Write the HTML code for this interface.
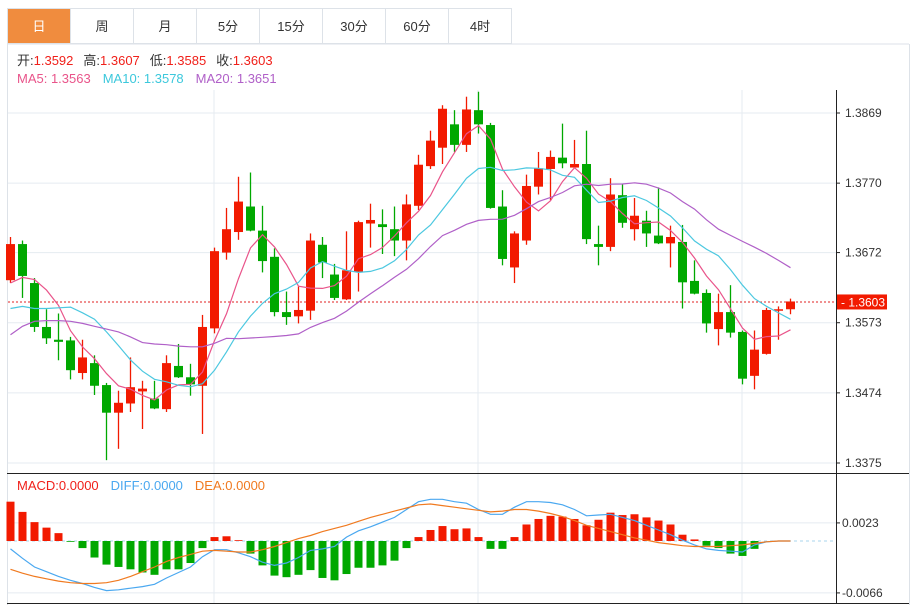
<!DOCTYPE html>
<html><head><meta charset="utf-8"><style>
body{margin:0;background:#fff;width:916px;height:605px;overflow:hidden;font-family:"Liberation Sans","Noto Sans CJK SC",sans-serif;}
svg{display:block}
</style></head><body>
<svg id="chart" width="916" height="605" viewBox="0 0 916 605" xmlns="http://www.w3.org/2000/svg" font-family="Liberation Sans, Noto Sans CJK SC, sans-serif">
  <g id="frame">
    <line x1="7" y1="44" x2="909" y2="44" stroke="#dde2e8"/>
    <line x1="7.5" y1="8" x2="7.5" y2="605" stroke="#dde2e8"/>
    <line x1="909.5" y1="44" x2="909.5" y2="605" stroke="#dde2e8"/>
  </g>
  <g id="tabs"></g>
  <g id="grid"></g>
  <g id="legend" font-size="13">
    <text x="17" y="65"><tspan fill="#333">开:</tspan><tspan fill="#f0201a">1.3592</tspan><tspan fill="#333" dx="10">高:</tspan><tspan fill="#f0201a">1.3607</tspan><tspan fill="#333" dx="10">低:</tspan><tspan fill="#f0201a">1.3585</tspan><tspan fill="#333" dx="10">收:</tspan><tspan fill="#f0201a">1.3603</tspan></text>
    <text x="17" y="83"><tspan fill="#e9548a">MA5: 1.3563</tspan><tspan fill="#3cc8dc" dx="12">MA10: 1.3578</tspan><tspan fill="#b060c8" dx="12">MA20: 1.3651</tspan></text>
  </g>
  <g id="candles"></g>
  <g id="malines"></g>
  <g id="macd"></g>
  <g id="macdlegend" font-size="13">
    <text x="17" y="490"><tspan fill="#f0201a">MACD:0.0000</tspan><tspan fill="#4aa8f0" dx="12">DIFF:0.0000</tspan><tspan fill="#f07a20" dx="12">DEA:0.0000</tspan></text>
  </g>
  <g id="axis"></g>
</svg>
<script>
const tabLabels=["日","周","月","5分","15分","30分","60分","4时"];
const openP=[1.3633,1.3684,1.3629,1.3567,1.3549,1.3548,1.3502,1.3516,1.3485,1.3446,1.3459,1.3476,1.3466,1.3451,1.3512,1.3496,1.3484,1.3565,1.3672,1.3701,1.3737,1.3703,1.3666,1.3588,1.3582,1.3590,1.3683,1.3641,1.3606,1.3645,1.3713,1.3712,1.3705,1.3689,1.3738,1.3794,1.3820,1.3853,1.3824,1.3873,1.3852,1.3737,1.3651,1.3689,1.3765,1.3790,1.3806,1.3792,1.3797,1.3684,1.3680,1.3753,1.3705,1.3717,1.3696,1.3685,1.3687,1.3632,1.3615,1.3564,1.3588,1.3560,1.3498,1.3529,1.3590,1.3592];
const highP=[1.3694,1.3689,1.3636,1.3592,1.3586,1.3553,1.3549,1.3527,1.3488,1.3477,1.3524,1.3491,1.3491,1.3527,1.3543,1.3515,1.3584,1.3679,1.3735,1.3779,1.3785,1.3738,1.3678,1.3617,1.3624,1.3699,1.3694,1.3656,1.3702,1.3717,1.3741,1.3733,1.3737,1.3754,1.3810,1.3844,1.3880,1.3873,1.3892,1.3899,1.3855,1.3760,1.3702,1.3782,1.3814,1.3816,1.3854,1.3831,1.3844,1.3710,1.3777,1.3769,1.3749,1.3731,1.3764,1.3710,1.3711,1.3661,1.3620,1.3614,1.3626,1.3562,1.3562,1.3594,1.3596,1.3607];
const lowP=[1.3629,1.3608,1.3560,1.3543,1.3520,1.3493,1.3493,1.3471,1.3379,1.3395,1.3447,1.3423,1.3451,1.3447,1.3495,1.3470,1.3416,1.3558,1.3662,1.3690,1.3702,1.3644,1.3582,1.3570,1.3572,1.3577,1.3636,1.3605,1.3605,1.3617,1.3679,1.3670,1.3667,1.3661,1.3732,1.3790,1.3797,1.3814,1.3814,1.3840,1.3734,1.3654,1.3629,1.3683,1.3754,1.3746,1.3791,1.3791,1.3684,1.3654,1.3674,1.3707,1.3689,1.3680,1.3684,1.3651,1.3593,1.3613,1.3559,1.3541,1.3552,1.3486,1.3479,1.3528,1.3549,1.3585];
const closeP=[1.3684,1.3639,1.3567,1.3551,1.3546,1.3506,1.3524,1.3484,1.3446,1.3460,1.3482,1.3480,1.3452,1.3516,1.3496,1.3486,1.3567,1.3674,1.3705,1.3744,1.3703,1.3660,1.3588,1.3581,1.3591,1.3689,1.3658,1.3608,1.3647,1.3715,1.3718,1.3708,1.3689,1.3740,1.3796,1.3830,1.3875,1.3824,1.3874,1.3853,1.3735,1.3663,1.3699,1.3766,1.3791,1.3807,1.3798,1.3797,1.3691,1.3680,1.3754,1.3714,1.3724,1.3699,1.3685,1.3694,1.3630,1.3614,1.3572,1.3588,1.3559,1.3494,1.3535,1.3591,1.3592,1.3603];
const ma5Lead=[1.3629,1.3637,1.3634,1.3619];
const ma10Lead=[1.3593,1.3596,1.3593,1.3593,1.3594,1.3595,1.3587,1.3578,1.3560];
const ma20Lead=[1.3556,1.3568,1.3575,1.3576,1.3576,1.3575,1.3572,1.3568,1.3564,1.3560,1.3553,1.3545,1.3543,1.3542,1.3540,1.3539,1.3539,1.3544,1.3551];
const macdHist=[0.0050,0.0037,0.0024,0.0017,0.0010,-0.0001,-0.0009,-0.0021,-0.0030,-0.0033,-0.0036,-0.0040,-0.0043,-0.0036,-0.0036,-0.0028,-0.0009,0.0005,0.0006,0.0001,-0.0016,-0.0031,-0.0044,-0.0046,-0.0043,-0.0037,-0.0047,-0.0050,-0.0042,-0.0034,-0.0034,-0.0031,-0.0025,-0.0009,0.0005,0.0014,0.0019,0.0015,0.0016,0.0005,-0.0010,-0.0010,0.0005,0.0021,0.0028,0.0032,0.0031,0.0028,0.0020,0.0027,0.0036,0.0033,0.0034,0.0030,0.0026,0.0021,0.0008,0.0002,-0.0006,-0.0009,-0.0016,-0.0019,-0.0010,0.0000,0.0000,0.0000];
const diffV=[-0.0010,-0.0022,-0.0033,-0.0039,-0.0045,-0.0050,-0.0054,-0.0059,-0.0063,-0.0062,-0.0060,-0.0058,-0.0055,-0.0047,-0.0040,-0.0033,-0.0020,-0.0011,-0.0011,-0.0015,-0.0020,-0.0027,-0.0031,-0.0028,-0.0021,-0.0012,-0.0010,-0.0007,0.0005,0.0013,0.0018,0.0024,0.0030,0.0040,0.0050,0.0053,0.0053,0.0050,0.0048,0.0040,0.0034,0.0034,0.0043,0.0050,0.0050,0.0049,0.0046,0.0040,0.0032,0.0033,0.0034,0.0030,0.0026,0.0020,0.0014,0.0008,0.0001,-0.0005,-0.0010,-0.0012,-0.0013,-0.0014,-0.0005,-0.0001,0.0000,0.0000];
const deaV=[-0.0036,-0.0041,-0.0045,-0.0048,-0.0051,-0.0053,-0.0054,-0.0054,-0.0053,-0.0050,-0.0045,-0.0039,-0.0033,-0.0026,-0.0021,-0.0017,-0.0013,-0.0012,-0.0013,-0.0014,-0.0014,-0.0011,-0.0007,-0.0002,0.0003,0.0007,0.0012,0.0016,0.0020,0.0025,0.0030,0.0034,0.0038,0.0042,0.0046,0.0047,0.0045,0.0043,0.0041,0.0039,0.0037,0.0038,0.0040,0.0040,0.0038,0.0035,0.0031,0.0026,0.0020,0.0016,0.0012,0.0008,0.0004,0.0001,-0.0002,-0.0004,-0.0006,-0.0007,-0.0007,-0.0007,-0.0006,-0.0005,-0.0003,-0.0001,0.0000,0.0000];
const priceTicks=[1.3869,1.3770,1.3672,1.3573,1.3474,1.3375];
const macdTicks=[0.0023,-0.0066];
const lastPrice=1.3603;

const NS="http://www.w3.org/2000/svg";
function mk(tag,attrs,parent){const e=document.createElementNS(NS,tag);for(const k in attrs)e.setAttribute(k,attrs[k]);parent.appendChild(e);return e;}
const yP=p=>113+(1.3869-p)*(350/0.0494);
const yM=v=>541-v*(70/0.0089);
const xI=i=>10.5+12*i;
const RED="#f21a00",GREEN="#00a800";

// tabs
const tabs=document.getElementById('tabs');
tabLabels.forEach((t,i)=>{
  const x=7+63*i;
  const r=mk('rect',{x:x+0.5,y:8.5,width:63,height:35,fill:i===0?"#f08c3e":"#fff",stroke:"#dde2e8"},tabs);
  
  
  const tx=mk('text',{x:x+32,y:31,'text-anchor':'middle','font-size':13,fill:i===0?"#fff":"#333"},tabs);
  tx.textContent=t;
  
  
});

// grid
const grid=document.getElementById('grid');
priceTicks.forEach(p=>{const l=mk('line',{x1:8,x2:836,y1:yP(p),y2:yP(p),stroke:"#e5ebf1"},grid);});
macdTicks.forEach(v=>{const l=mk('line',{x1:8,x2:836,y1:yM(v),y2:yM(v),stroke:"#e5ebf1"},grid);});
[214,478,742].forEach(x=>{const l=mk('line',{x1:x,x2:x,y1:90,y2:603,stroke:"#e5ebf1"},grid);});
mk('line',{x1:7,x2:909,y1:473.5,y2:473.5,stroke:"#222"},grid);
mk('line',{x1:7,x2:909,y1:603.5,y2:603.5,stroke:"#222"},grid);
mk('line',{x1:8,x2:836,y1:yM(0),y2:yM(0),stroke:"#a8d4ec","stroke-dasharray":"3,3"},grid);
mk('line',{x1:8,x2:836,y1:yP(lastPrice)+0.5,y2:yP(lastPrice)+0.5,stroke:"#e02020","stroke-dasharray":"2,2"},grid);

// candles
const cg=document.getElementById('candles');
closeP.forEach((c,i)=>{
  const o=openP[i],up=c>=o,col=up?RED:GREEN,x=xI(i);
  const w=mk('line',{x1:x,x2:x,y1:yP(highP[i]),y2:yP(lowP[i]),stroke:col,'stroke-width':1.3},cg);
  
  
  const top=yP(Math.max(o,c)),bot=yP(Math.min(o,c));
  const b=mk('rect',{x:x-4.5,y:top,width:9,height:Math.max(1.5,bot-top),fill:col},cg);
  
  
});

// moving averages
function ma(n,lead){return closeP.map((c,i)=>{if(i<n-1)return lead[i];let s=0;for(let k=i-n+1;k<=i;k++)s+=closeP[k];return s/n;});}
const mg=document.getElementById('malines');
[[ma(5,ma5Lead),"#e9548a","ma5-line"],[ma(10,ma10Lead),"#4cc8e0","ma10-line"],[ma(20,ma20Lead),"#b060c8","ma20-line"]].forEach(([arr,col,name])=>{
  const pl=mk('polyline',{points:arr.map((v,i)=>xI(i)+","+yP(v).toFixed(1)).join(" "),fill:"none",stroke:col,'stroke-width':1.2},mg);
  
  
});

// macd
const mcg=document.getElementById('macd');
macdHist.forEach((v,i)=>{
  if(Math.abs(v)<0.00005)return;
  const y0=yM(0),y1=yM(v);
  const r=mk('rect',{x:xI(i)-4,y:Math.min(y0,y1),width:8,height:Math.abs(y1-y0),fill:v>=0?RED:GREEN},mcg);
  
  
});
[[diffV,"#4aa8f0","diff-line"],[deaV,"#f07a20","dea-line"]].forEach(([arr,col,name])=>{
  const pl=mk('polyline',{points:arr.map((v,i)=>xI(i)+","+yM(v).toFixed(1)).join(" "),fill:"none",stroke:col,'stroke-width':1.2},mcg);
  
  
});

// axis
const ax=document.getElementById('axis');
mk('line',{x1:836.5,x2:836.5,y1:90,y2:603,stroke:"#222"},ax);
priceTicks.forEach(p=>{
  mk('line',{x1:836,x2:840,y1:yP(p),y2:yP(p),stroke:"#222"},ax);
  const t=mk('text',{x:845,y:yP(p)+4,'font-size':12,fill:"#333"},ax);
  t.textContent=p.toFixed(4);
  
  
});
macdTicks.forEach(v=>{
  mk('line',{x1:836,x2:840,y1:yM(v),y2:yM(v),stroke:"#222"},ax);
  const t=mk('text',{x:842,y:yM(v)+4,'font-size':12,fill:"#333"},ax);
  t.textContent=v.toFixed(4);
  
  
});
const ly=yP(lastPrice);
const lb=mk('rect',{x:837,y:ly-7,width:50,height:15,fill:"#f21a00"},ax);


const lt=mk('text',{x:841,y:ly+5,'font-size':12,fill:"#fff"},ax);
lt.textContent="- "+lastPrice.toFixed(4);


</script>
</body></html>
